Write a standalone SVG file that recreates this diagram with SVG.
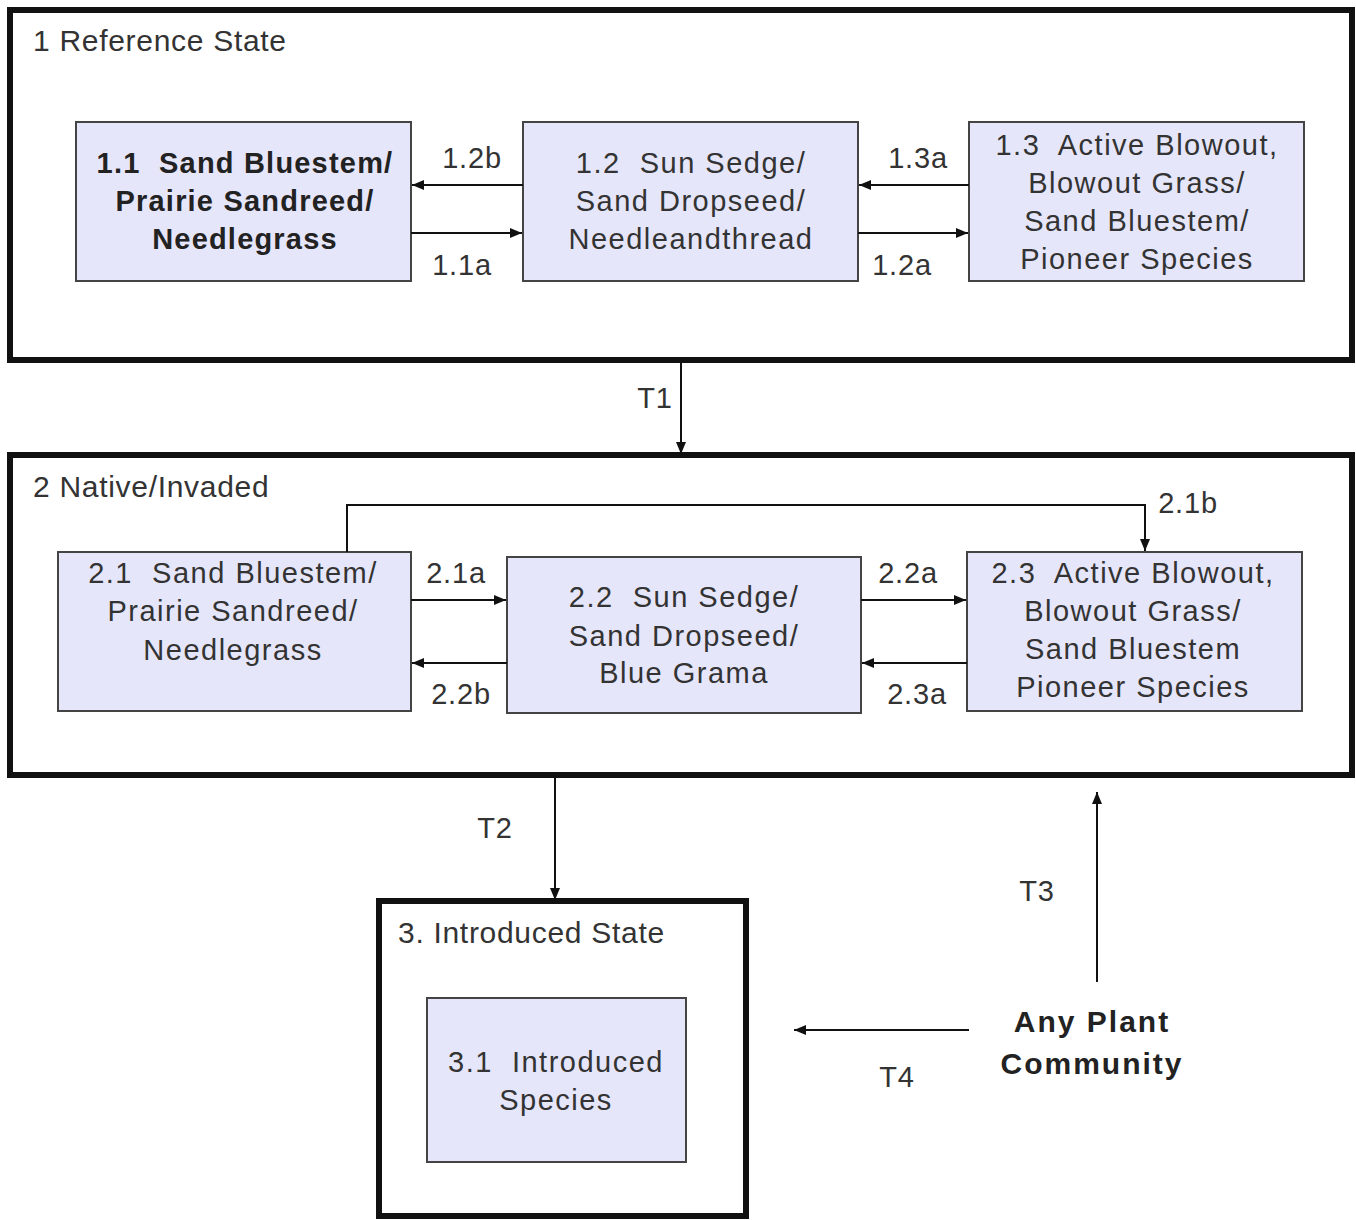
<svg xmlns="http://www.w3.org/2000/svg" width="1356" height="1220" viewBox="0 0 1356 1220">
<defs>
<marker id="ah" viewBox="0 0 12 10" refX="12" refY="5" markerWidth="12" markerHeight="10" markerUnits="userSpaceOnUse" orient="auto">
<path d="M0,0 L12,5 L0,10 Z" fill="#111"/>
</marker>
<style>
.state{fill:#fff;stroke:#111;stroke-width:6}
.node{fill:#e6e6fa;stroke:#444;stroke-width:2}
.t{font-family:"Liberation Sans",Arial,sans-serif;font-size:29px;letter-spacing:1.5px;fill:#333;text-anchor:middle;white-space:pre}
.b{font-weight:bold;fill:#222;letter-spacing:1.2px}
.ap{font-family:"Liberation Sans",Arial,sans-serif;font-size:30px;font-weight:bold;letter-spacing:2px;fill:#222;text-anchor:middle}
.lbl{font-family:"Liberation Sans",Arial,sans-serif;font-size:29px;letter-spacing:0.8px;fill:#333;text-anchor:middle}
.st{font-family:"Liberation Sans",Arial,sans-serif;font-size:30px;letter-spacing:0.7px;fill:#333}
.c{fill:none;stroke:#111;stroke-width:2}
</style>
</defs>
<rect width="1356" height="1220" fill="#fff"/>

<g id="state1">
<rect class="state" x="10" y="10" width="1342" height="350"/>
<text class="st" x="33" y="51">1 Reference State</text>
</g>
<g id="state2">
<rect class="state" x="10" y="455" width="1342" height="320"/>
<text class="st" x="33" y="497">2 Native/Invaded</text>
</g>
<g id="state3">
<rect class="state" x="379" y="901" width="367" height="315"/>
<text class="st" x="398" y="943">3. Introduced State</text>
</g>

<g id="n11">
<rect class="node" x="76" y="122" width="335" height="159"/>
<text class="t b" x="245" y="173" xml:space="preserve">1.1  Sand Bluestem/</text>
<text class="t b" x="245" y="211">Prairie Sandreed/</text>
<text class="t b" x="245" y="249">Needlegrass</text>
</g>
<g id="n12">
<rect class="node" x="523" y="122" width="335" height="159"/>
<text class="t" x="691" y="173" xml:space="preserve">1.2  Sun Sedge/</text>
<text class="t" x="691" y="211">Sand Dropseed/</text>
<text class="t" x="691" y="249">Needleandthread</text>
</g>
<g id="n13">
<rect class="node" x="969" y="122" width="335" height="159"/>
<text class="t" x="1137" y="155" xml:space="preserve">1.3  Active Blowout,</text>
<text class="t" x="1137" y="193">Blowout Grass/</text>
<text class="t" x="1137" y="231">Sand Bluestem/</text>
<text class="t" x="1137" y="269">Pioneer Species</text>
</g>

<g id="n21">
<rect class="node" x="58" y="552" width="353" height="159"/>
<text class="t" x="233" y="583" xml:space="preserve">2.1  Sand Bluestem/</text>
<text class="t" x="233" y="621">Prairie Sandreed/</text>
<text class="t" x="233" y="660">Needlegrass</text>
</g>
<g id="n22">
<rect class="node" x="507" y="557" width="354" height="156"/>
<text class="t" x="684" y="607" xml:space="preserve">2.2  Sun Sedge/</text>
<text class="t" x="684" y="646">Sand Dropseed/</text>
<text class="t" x="684" y="683">Blue Grama</text>
</g>
<g id="n23">
<rect class="node" x="967" y="552" width="335" height="159"/>
<text class="t" x="1133" y="583" xml:space="preserve">2.3  Active Blowout,</text>
<text class="t" x="1133" y="621">Blowout Grass/</text>
<text class="t" x="1133" y="659">Sand Bluestem</text>
<text class="t" x="1133" y="697">Pioneer Species</text>
</g>

<g id="n31">
<rect class="node" x="427" y="998" width="259" height="164"/>
<text class="t" x="556" y="1072" xml:space="preserve">3.1  Introduced</text>
<text class="t" x="556" y="1110">Species</text>
</g>

<g id="anyplant">
<text class="ap" x="1092" y="1032">Any Plant</text>
<text class="ap" x="1092" y="1074">Community</text>
</g>

<g id="connectors">
<line class="c" x1="523" y1="185" x2="412" y2="185" marker-end="url(#ah)"/>
<line class="c" x1="411" y1="233" x2="522" y2="233" marker-end="url(#ah)"/>
<line class="c" x1="969" y1="185" x2="859" y2="185" marker-end="url(#ah)"/>
<line class="c" x1="858" y1="233" x2="968" y2="233" marker-end="url(#ah)"/>
<line class="c" x1="681" y1="363" x2="681" y2="454" marker-end="url(#ah)"/>
<polyline class="c" points="347,552 347,505 1145,505 1145,551" marker-end="url(#ah)"/>
<line class="c" x1="411" y1="600" x2="506" y2="600" marker-end="url(#ah)"/>
<line class="c" x1="507" y1="663" x2="412" y2="663" marker-end="url(#ah)"/>
<line class="c" x1="861" y1="600" x2="966" y2="600" marker-end="url(#ah)"/>
<line class="c" x1="967" y1="663" x2="862" y2="663" marker-end="url(#ah)"/>
<line class="c" x1="555" y1="778" x2="555" y2="900" marker-end="url(#ah)"/>
<line class="c" x1="1097" y1="982" x2="1097" y2="792" marker-end="url(#ah)"/>
<line class="c" x1="969" y1="1030" x2="794" y2="1030" marker-end="url(#ah)"/>
<text class="lbl" x="472" y="168">1.2b</text>
<text class="lbl" x="462" y="275">1.1a</text>
<text class="lbl" x="918" y="168">1.3a</text>
<text class="lbl" x="902" y="275">1.2a</text>
<text class="lbl" x="655" y="408">T1</text>
<text class="lbl" x="1188" y="513">2.1b</text>
<text class="lbl" x="456" y="583">2.1a</text>
<text class="lbl" x="461" y="704">2.2b</text>
<text class="lbl" x="908" y="583">2.2a</text>
<text class="lbl" x="917" y="704">2.3a</text>
<text class="lbl" x="495" y="838">T2</text>
<text class="lbl" x="1037" y="901">T3</text>
<text class="lbl" x="897" y="1087">T4</text>
</g>
</svg>
